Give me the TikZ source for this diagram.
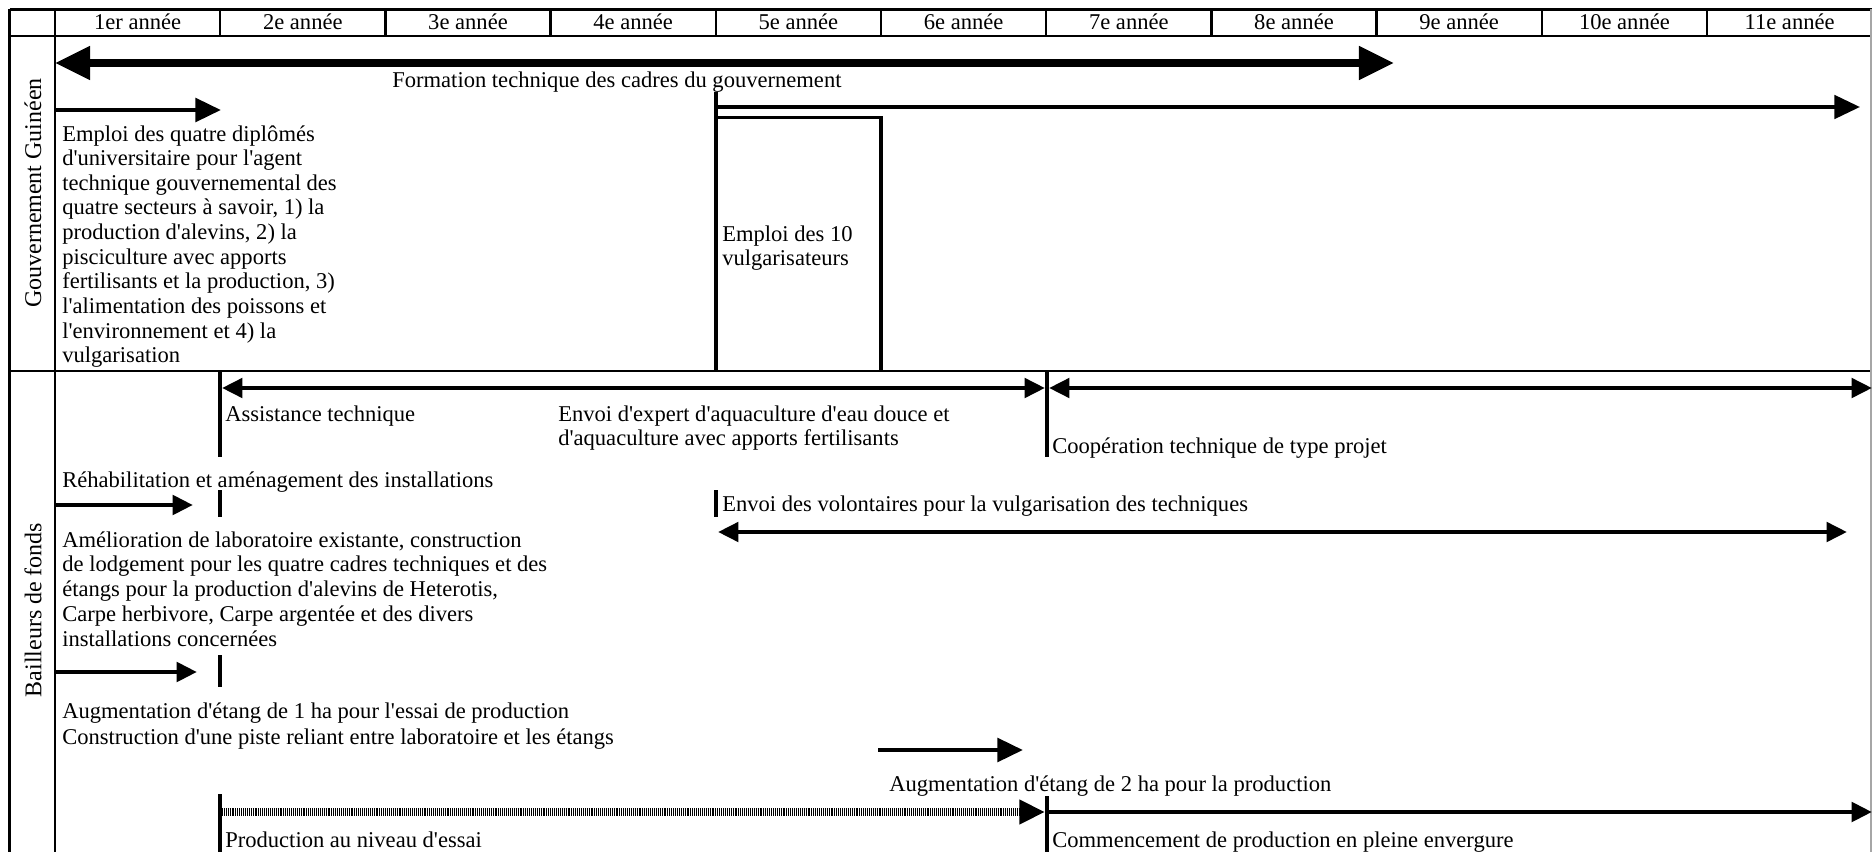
\documentclass[tikz,border=0pt]{standalone}
\usepackage{fontspec}
\setmainfont{Liberation Serif}[Ligatures=TeXOff]
\usetikzlibrary{arrows.meta}

% several lines with a fixed baseline distance; the baseline is the first line's
\newcommand\linestack[2]{\vtop{\baselineskip=#1\relax\lineskiplimit=-100pt\halign{##\hfil\cr#2\crcr}}}

\tikzset{
  gridline/.style={line width=1.6pt},
  rule/.style={line width=1.9pt},
  txt/.style={inner sep=0pt, anchor=base west, font=\fontsize{14.1pt}{15.5pt}\selectfont},
  hdr/.style={inner sep=0pt, anchor=base, font=\fontsize{14.1pt}{15.5pt}\selectfont},
  rowlabel/.style={inner sep=0pt, rotate=90, font=\fontsize{15pt}{16pt}\selectfont},
  bigtip/.tip={Triangle[length=21.9pt,width=20pt]},
  midtip/.tip={Triangle[length=16pt,width=14.5pt]},
  smalltip/.tip={Triangle[length=12.8pt,width=12pt]},
  bigdbl/.style={line width=4.7pt, bigtip-bigtip},
  midarrow/.style={line width=3.1pt, -midtip},
  longarrow/.style={line width=2.6pt, -midtip},
  smallarrow/.style={line width=3pt, -smalltip},
  smalldbl/.style={line width=2.8pt, smalltip-smalltip},
  dotarrow/.style={line width=4.4pt, dash pattern=on 0.6pt off 0.6pt, -midtip},
}

\begin{document}
\begin{tikzpicture}[x=0.625pt, y=-0.625pt]
\useasboundingbox (0,0) rectangle (1872,852);

% ---- table frame and year header ----
\draw[gridline] (9.5,9.5) -- (1872,9.5);
\draw[gridline] (9.5,36) -- (1872,36);
\draw[gridline] (9.5,371) -- (1872,371);
\draw[gridline] (9.5,9.5) -- (9.5,852);
\draw[gridline] (55,9.5) -- (55,852);
\draw[line width=1pt, gray!70] (1871,9.5) -- (1871,852);
\foreach \k in {1,...,10} \draw[gridline] ({55+165.2*\k},9.5) -- ({55+165.2*\k},36);
\foreach \k/\t in {1/1er année,2/2e année,3/3e année,4/4e année,5/5e année,6/6e année,
                   7/7e année,8/8e année,9/9e année,10/10e année,11/11e année}
  \node[hdr] (y\k) at ({55+165.2*(\k-0.5)},29.5) {\t};

% ---- row labels ----
\node[rowlabel] (gov) at (33,193) {Gouvernement Guinéen};
\node[rowlabel] (donor) at (33,610) {Bailleurs de fonds};

% ---- government ----
\draw[bigdbl] (55,63) -- (1394,63);
\node[txt] (formation) at (392,87) {Formation technique des cadres du gouvernement};

\draw[midarrow] (55,110) -- (221,110);
\node[txt] (cadres) at (62,141) {\linestack{15.4pt}{%
Emploi des quatre diplômés\cr
d'universitaire pour l'agent\cr
technique gouvernemental des\cr
quatre secteurs à savoir, 1) la\cr
production d'alevins, 2) la\cr
pisciculture avec apports\cr
fertilisants et la production, 3)\cr
l'alimentation des poissons et\cr
l'environnement et 4) la\cr
vulgarisation}};

\draw[rule] (716,92) -- (716,371);
\draw[longarrow] (716,107) -- (1860,107);
\draw[rule] (716,117.5) -- (881,117.5) -- (881,371);
\node[txt] (vulg) at (722,241) {\linestack{15.6pt}{Emploi des 10\cr vulgarisateurs}};

% ---- donors ----
\draw[rule] (220,371) -- (220,457);
\draw[smalldbl] (222,388) -- (1045,388);
\draw[rule] (1047,371) -- (1047,457);
\draw[smalldbl] (1049,388) -- (1872,388);
\node[txt] (assist) at (225,421) {Assistance technique};
\node[txt] (expert) at (558,421) {\linestack{15pt}{Envoi d'expert d'aquaculture d'eau douce et\cr d'aquaculture avec apports fertilisants}};
\node[txt] (coop) at (1052,453) {Coopération technique de type projet};

\node[txt] (rehab) at (62,487) {Réhabilitation et aménagement des installations};
\draw[smallarrow] (55,505) -- (193,505);
\draw[rule] (220,490) -- (220,517);

\draw[rule] (716,490) -- (716,517);
\node[txt] (volont) at (722,511) {Envoi des volontaires pour la vulgarisation des techniques};
\draw[smalldbl] (718,532) -- (1847,532);

\node[txt] (labo) at (62,547) {\linestack{15.6pt}{%
Amélioration de laboratoire existante, construction\cr
de lodgement pour les quatre cadres techniques et des\cr
étangs pour la production d'alevins de Heterotis,\cr
Carpe herbivore, Carpe argentée et des divers\cr
installations concernées}};
\draw[smallarrow] (55,672) -- (197,672);
\draw[rule] (220,655) -- (220,687);

\node[txt] (etang1) at (62,718) {\linestack{16.25pt}{%
Augmentation d'étang de 1 ha pour l'essai de production\cr
Construction d'une piste reliant entre laboratoire et les étangs}};

\draw[midarrow] (878,750) -- (1023,750);
\node[txt] (etang2) at (889,791) {Augmentation d'étang de 2 ha pour la production};

\draw[rule] (220,794) -- (220,852);
\draw[dotarrow] (220,812) -- (1045,812);
\draw[rule] (1047,796) -- (1047,852);
\draw[smallarrow] (1047,812) -- (1872,812);
\node[txt] (essai) at (225,847) {Production au niveau d'essai};
\node[txt] (pleine) at (1052,847) {Commencement de production en pleine envergure};

\end{tikzpicture}
\end{document}
